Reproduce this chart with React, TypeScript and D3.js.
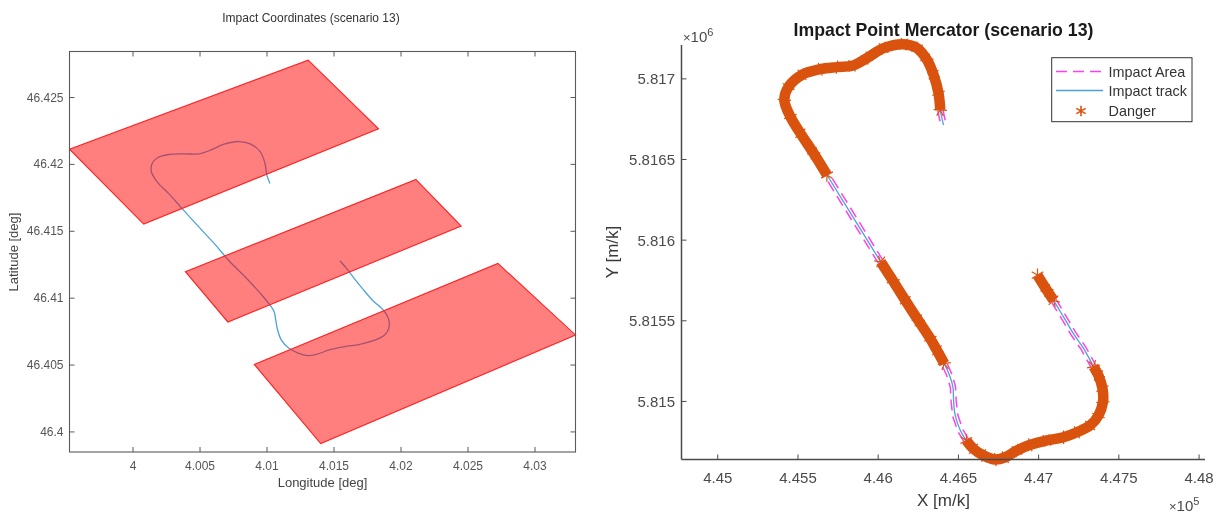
// Two-panel impact plot: lat/lon areas on the left, Mercator track on the right.
import * as d3 from 'd3'

const W = 1224
const H = 513
const FONT = '"Liberation Sans", Arial, sans-serif'

// ── Left panel data (degrees) ─────────────────────────────────────────────
const lonTicks = [4, 4.005, 4.01, 4.015, 4.02, 4.025, 4.03]
const latTicks = [46.4, 46.405, 46.41, 46.415, 46.42, 46.425]

const areaNorthLon = [4.01307, 4.01832, 4.0008, 3.99526]
const areaNorthLat = [46.42779, 46.42266, 46.41554, 46.42114]
const areaMiddleLon = [4.02112, 4.02449, 4.00708, 4.00391]
const areaMiddleLat = [46.41887, 46.41539, 46.40822, 46.41198]
const areaSouthLon = [4.02723, 4.03302, 4.01401, 4.00905]
const areaSouthLat = [46.4126, 46.40725, 46.39913, 46.40505]

const trackLon = [
  4.01544, 4.01593, 4.0165, 4.01714, 4.01789, 4.01872, 4.01906, 4.01909, 4.01878, 4.01792, 4.01692,
  4.01578, 4.01464, 4.01378, 4.01307, 4.01236, 4.01164, 4.01107, 4.01079, 4.01065, 4.01053, 4.01022,
  4.0095, 4.00836, 4.00718, 4.00602, 4.00484, 4.00365, 4.00265, 4.0018, 4.00137, 4.00143, 4.00186,
  4.00265, 4.0038, 4.00494, 4.00579, 4.00679, 4.00793, 4.00879, 4.0095, 4.00985, 4.00999, 4.01022,
]
const trackLat = [
  46.4128, 46.41223, 46.41148, 46.41069, 46.40983, 46.40906, 46.40849, 46.40774, 46.40725, 46.40682,
  46.40655, 46.40637, 46.40613, 46.40583, 46.4057, 46.40588, 46.40625, 46.40687, 46.40762, 46.40837,
  46.40899, 46.40949, 46.41036, 46.4116, 46.41278, 46.41413, 46.4154, 46.41671, 46.41783, 46.4187,
  46.41945, 46.42007, 46.42052, 46.42074, 46.42079, 46.42079, 46.42107, 46.42151, 46.42171, 46.42151,
  46.42094, 46.42007, 46.4192, 46.41858,
]

// ── Right panel data (metres) ─────────────────────────────────────────────
const xTicks = [445000, 445500, 446000, 446500, 447000, 447500, 448000]
const xTickLabels = ['4.45', '4.455', '4.46', '4.465', '4.47', '4.475', '4.48']
const yTicks = [5815000, 5815500, 5816000, 5816500, 5817000]
const yTickLabels = ['5.815', '5.8155', '5.816', '5.8165', '5.817']

const mercX = [
  446993, 447052, 447093, 447155, 447217, 447280, 447342, 447373, 447398, 447401, 447373, 447321,
  447239, 447155, 447052, 446948, 446865, 446792, 446730, 446657, 446594, 446549, 446512, 446480,
  446470, 446466, 446445, 446412, 446366, 446325, 446250, 446169, 446094, 446016, 445681, 445598,
  445515, 445452, 445415, 445442, 445525, 445639, 445743, 445837, 445930, 446034, 446158, 446242,
  446304, 446345, 446376, 446387, 446407,
]
const mercY = [
  5815783, 5815689, 5815627, 5815524, 5815420, 5815329, 5815217, 5815161, 5815079, 5814996, 5814913,
  5814851, 5814809, 5814778, 5814758, 5814731, 5814696, 5814654, 5814640, 5814665, 5814706, 5814758,
  5814820, 5814913, 5815006, 5815089, 5815161, 5815234, 5815317, 5815389, 5815503, 5815627, 5815745,
  5815865, 5816404, 5816538, 5816663, 5816766, 5816870, 5816952, 5817025, 5817060, 5817073, 5817081,
  5817129, 5817191, 5817215, 5817191, 5817118, 5817025, 5816911, 5816807, 5816714,
]

// Track samples flagged as danger, as [first, last] index stretches
const dangerStretches = [[0, 2], [6, 21], [27, 33], [34, 51]]

// Impact area edges, only the stretches not buried under the danger markers (NaN = gap)
const edgeRightX = [
  447107, 447169, 447231, 447294, 447356, NaN,
  446563, 446527, 446496, 446486, 446482, 446460, 446427, NaN,
  446030, 445695, NaN,
  446403, 446423,
]
const edgeRightY = [
  5815635, 5815532, 5815428, 5815337, 5815225, NaN,
  5814767, 5814827, 5814917, 5815006, 5815092, 5815167, 5815242, NaN,
  5815874, 5816413, NaN,
  5816810, 5816717,
]
const edgeLeftX = [
  447079, 447141, 447203, 447266, 447328, NaN,
  446535, 446497, 446464, 446454, 446450, 446430, 446397, NaN,
  446002, 445667, NaN,
  446371, 446391,
]
const edgeLeftY = [
  5815619, 5815516, 5815412, 5815321, 5815209, NaN,
  5814749, 5814813, 5814909, 5815006, 5815086, 5815155, 5815226, NaN,
  5815856, 5816395, NaN,
  5816804, 5816711,
]

const legendRows = ['Impact Area', 'Impact track', 'Danger']

// ── Scales ────────────────────────────────────────────────────────────────
const L = { left: 69.5, right: 575.5, top: 51.5, bottom: 452 }
const R = { left: 681.5, right: 1205, top: 45, bottom: 459.5 }

const lonScale = d3.scaleLinear().domain([3.99526, 4.03302]).range([L.left, L.right])
const latScale = d3.scaleLinear().domain([46.3985, 46.42844]).range([L.bottom, L.top])
const xScale = d3.scaleLinear().domain([444774, 448037]).range([R.left, R.right])
const yScale = d3.scaleLinear().domain([5814640, 5817210]).range([R.bottom, R.top])

const COLOR_AXIS_L = '#5a5a5a'
const COLOR_AXIS_R = '#4a4a4a'
const COLOR_TRACK = '#4ba3dc'
const COLOR_DANGER = '#d9530f'
const COLOR_AREA = '#ff40f0'
const AREA_DASH = '11 6'

const lonLatLine = d3.line<number>()
  .x((i) => lonScale(trackLon[i]))
  .y((i) => latScale(trackLat[i]))
  .curve(d3.curveCatmullRom)

const mercLine = d3.line<number>()
  .x((i) => xScale(mercX[i]))
  .y((i) => yScale(mercY[i]))
  .curve(d3.curveCatmullRom)

const asterisk = d3.symbol().type(d3.symbolAsterisk).size(125)()!
const legendAsterisk = d3.symbol().type(d3.symbolAsterisk).size(80)()!

function edgePath(xs: number[], ys: number[]) {
  return d3.line<number>()
    .defined((i) => !Number.isNaN(xs[i]))
    .x((i) => xScale(xs[i]))
    .y((i) => yScale(ys[i]))(d3.range(xs.length))!
}

function areaPolygon(lons: number[], lats: number[]) {
  return lons.map((lon, i) => `${lonScale(lon)},${latScale(lats[i])}`).join(' ')
}

function LeftPanel() {
  const areas = [
    [areaNorthLon, areaNorthLat],
    [areaMiddleLon, areaMiddleLat],
    [areaSouthLon, areaSouthLat],
  ]
  return (
    <g fontFamily={FONT} fill="#555">
      <text x={311} y={22} fontSize={12} textAnchor="middle" fill="#333">
        Impact Coordinates (scenario 13)
      </text>

      {/* track goes under the translucent patches, which is why it darkens inside them */}
      <path d={lonLatLine(d3.range(trackLon.length))!} fill="none" stroke={COLOR_TRACK} strokeWidth={1.3} />
      {areas.map(([lons, lats], i) => (
        <polygon
          key={i}
          points={areaPolygon(lons, lats)}
          fill="#ff0000"
          fillOpacity={0.5}
          stroke="#ff2020"
          strokeWidth={1.1}
        />
      ))}

      <rect
        x={L.left}
        y={L.top}
        width={L.right - L.left}
        height={L.bottom - L.top}
        fill="none"
        stroke={COLOR_AXIS_L}
        strokeWidth={1.1}
      />
      {lonTicks.map((t) => (
        <g key={t}>
          <line x1={lonScale(t)} x2={lonScale(t)} y1={L.bottom} y2={L.bottom - 5} stroke={COLOR_AXIS_L} />
          <line x1={lonScale(t)} x2={lonScale(t)} y1={L.top} y2={L.top + 5} stroke={COLOR_AXIS_L} />
          <text x={lonScale(t)} y={470} fontSize={12} textAnchor="middle">{t}</text>
        </g>
      ))}
      {latTicks.map((t) => (
        <g key={t}>
          <line x1={L.left} x2={L.left + 5} y1={latScale(t)} y2={latScale(t)} stroke={COLOR_AXIS_L} />
          <line x1={L.right} x2={L.right - 5} y1={latScale(t)} y2={latScale(t)} stroke={COLOR_AXIS_L} />
          <text x={63.5} y={latScale(t) + 4} fontSize={12} textAnchor="end">{t}</text>
        </g>
      ))}
      <text x={322.5} y={487} fontSize={13} textAnchor="middle" fill="#444">Longitude [deg]</text>
      <text
        transform="translate(18,252) rotate(-90)"
        fontSize={13}
        textAnchor="middle"
        fill="#444"
      >
        Latitude [deg]
      </text>
    </g>
  )
}

function RightPanel() {
  return (
    <g fontFamily={FONT} fill="#4a4a4a">
      <text x={943.5} y={36} fontSize={17.7} fontWeight="bold" textAnchor="middle" fill="#1a1a1a">
        Impact Point Mercator (scenario 13)
      </text>

      <path d={edgePath(edgeRightX, edgeRightY)} fill="none" stroke={COLOR_AREA} strokeWidth={1.5} strokeDasharray={AREA_DASH} />
      <path d={edgePath(edgeLeftX, edgeLeftY)} fill="none" stroke={COLOR_AREA} strokeWidth={1.5} strokeDasharray={AREA_DASH} />
      <path d={mercLine(d3.range(mercX.length))!} fill="none" stroke={COLOR_TRACK} strokeWidth={1.3} />

      {dangerStretches.map(([first, last]) => {
        const idx = d3.range(first, last + 1)
        return (
          <g key={first}>
            <path d={mercLine(idx)!} fill="none" stroke={COLOR_DANGER} strokeWidth={10.5} />
            {idx.map((i) => (
              <path
                key={i}
                d={asterisk}
                transform={`translate(${xScale(mercX[i])},${yScale(mercY[i])}) rotate(${i * 23})`}
                fill="none"
                stroke={COLOR_DANGER}
                strokeWidth={1.2}
              />
            ))}
          </g>
        )
      })}

      <line x1={R.left} x2={R.left} y1={R.top} y2={R.bottom} stroke={COLOR_AXIS_R} strokeWidth={1.5} />
      <line x1={R.left} x2={R.right} y1={R.bottom} y2={R.bottom} stroke={COLOR_AXIS_R} strokeWidth={1.5} />
      {xTicks.map((t, i) => (
        <g key={t}>
          <line x1={xScale(t)} x2={xScale(t)} y1={R.bottom} y2={R.bottom - 5} stroke={COLOR_AXIS_R} />
          <text x={xScale(t)} y={483} fontSize={15} textAnchor="middle">{xTickLabels[i]}</text>
        </g>
      ))}
      {yTicks.map((t, i) => (
        <g key={t}>
          <line x1={R.left} x2={R.left + 5} y1={yScale(t)} y2={yScale(t)} stroke={COLOR_AXIS_R} />
          <text x={675} y={yScale(t) + 5.5} fontSize={15} textAnchor="end">{yTickLabels[i]}</text>
        </g>
      ))}

      <text x={683} y={42} fontSize={15}>
        <tspan fontSize={13}>×</tspan>10
        <tspan fontSize={11} dy={-6}>6</tspan>
      </text>
      <text x={1169} y={511} fontSize={15}>
        <tspan fontSize={13}>×</tspan>10
        <tspan fontSize={11} dy={-6}>5</tspan>
      </text>

      <text x={943.5} y={506} fontSize={17} textAnchor="middle" fill="#3a3a3a">X [m/k]</text>
      <text
        transform="translate(618,252) rotate(-90)"
        fontSize={17}
        textAnchor="middle"
        fill="#3a3a3a"
      >
        Y [m/k]
      </text>

      {/* Legend */}
      <rect x={1051.7} y={57.7} width={140.3} height={64} fill="#fff" stroke="#333" strokeWidth={1} />
      <path d="M1056,71.5H1103" fill="none" stroke={COLOR_AREA} strokeWidth={1.6} strokeDasharray={AREA_DASH} />
      <path d="M1056,90.5H1103" fill="none" stroke={COLOR_TRACK} strokeWidth={1.5} />
      <path d={legendAsterisk} transform="translate(1081,111)" fill="none" stroke={COLOR_DANGER} strokeWidth={1.6} />
      {legendRows.map((label, i) => (
        <text key={label} x={1108.5} y={[76.5, 95.5, 116][i]} fontSize={14.4} fill="#333">{label}</text>
      ))}
    </g>
  )
}

export default function App() {
  return (
    <svg
      width={W}
      height={H}
      viewBox={`0 0 ${W} ${H}`}
      style={{ position: 'absolute', left: 0, top: 0, background: '#fff', filter: 'blur(0.45px)' }}
    >
      <LeftPanel />
      <RightPanel />
    </svg>
  )
}
